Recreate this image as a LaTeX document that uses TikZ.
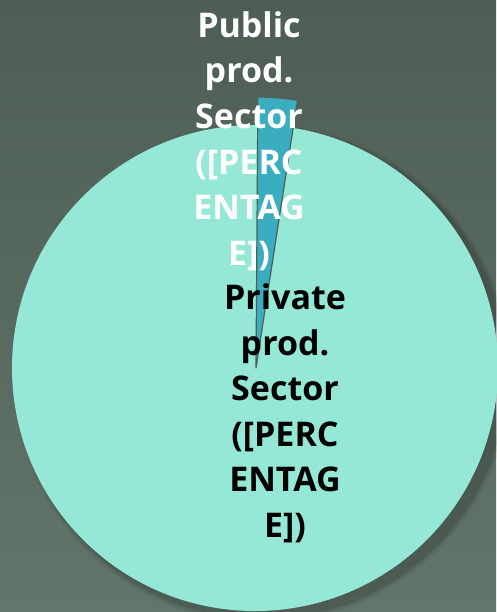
\documentclass[tikz,border=0pt]{standalone}
\usepackage{fontspec}
\setmainfont{Open Sans}
\definecolor{bgtop}{HTML}{4E5E55}
\definecolor{bgbot}{HTML}{62756A}
\definecolor{piemint}{HTML}{95E8D5}
\definecolor{wedgeteal}{HTML}{3AAEC0}
\definecolor{wedgeedge}{HTML}{4F5F58}
\begin{document}
\begin{tikzpicture}[x=1pt,y=-1pt,line join=round]
    \tikzset{label style/.style={font=\fontsize{34}{45.5}\selectfont\bfseries,align=center,inner sep=0pt,anchor=base}}
    \shade[top color=bgtop,bottom color=bgbot] (0,0) rectangle (496,612);
    \useasboundingbox (0,0) rectangle (496,612);
    \foreach \s/\o in {6/0.05,4/0.07,2/0.09}
        \fill[black,opacity=\o] (262,374) circle (243+\s);
    \fill[piemint] (255,368) circle (243);
    \filldraw[fill=wedgeteal,draw=wedgeedge,line width=1.2pt] (256,368) -- ++(-89.6:271)
        arc[start angle=-89.6,end angle=-81.2,radius=271] -- cycle;
    \node[label style,text=white] (pub) at (249,265) {Public\\prod.\\Sector\\([PERC\\ENTAG\\E])};
    \node[label style,text=black] (priv) at (285,537) {Private\\prod.\\Sector\\([PERC\\ENTAG\\E])};
\end{tikzpicture}
\end{document}
